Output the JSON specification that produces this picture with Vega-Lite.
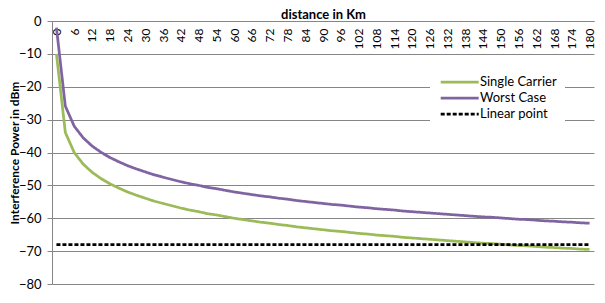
{
  "$schema": "https://vega.github.io/schema/vega-lite/v6.json",
  "width": 542,
  "height": 263,
  "autosize": {"type": "none"},
  "padding": {"left": 52, "top": 21, "right": 11, "bottom": 19},
  "background": "white",
  "config": {"view": {"stroke": null}, "font": "Lato"},
  "data": {"values": [
    {"km": 0, "Single Carrier": -10, "Worst Case": -2, "Linear point": -68},
    {"km": 3, "Single Carrier": -33.9, "Worst Case": -25.9, "Linear point": -68},
    {"km": 6, "Single Carrier": -40.0, "Worst Case": -32.0, "Linear point": -68},
    {"km": 9, "Single Carrier": -43.5, "Worst Case": -35.5, "Linear point": -68},
    {"km": 12, "Single Carrier": -46.0, "Worst Case": -38.0, "Linear point": -68},
    {"km": 15, "Single Carrier": -47.9, "Worst Case": -39.9, "Linear point": -68},
    {"km": 18, "Single Carrier": -49.5, "Worst Case": -41.5, "Linear point": -68},
    {"km": 21, "Single Carrier": -50.8, "Worst Case": -42.8, "Linear point": -68},
    {"km": 24, "Single Carrier": -52.0, "Worst Case": -44.0, "Linear point": -68},
    {"km": 27, "Single Carrier": -53.0, "Worst Case": -45.0, "Linear point": -68},
    {"km": 30, "Single Carrier": -53.9, "Worst Case": -45.9, "Linear point": -68},
    {"km": 33, "Single Carrier": -54.8, "Worst Case": -46.8, "Linear point": -68},
    {"km": 36, "Single Carrier": -55.5, "Worst Case": -47.5, "Linear point": -68},
    {"km": 39, "Single Carrier": -56.2, "Worst Case": -48.2, "Linear point": -68},
    {"km": 42, "Single Carrier": -56.9, "Worst Case": -48.9, "Linear point": -68},
    {"km": 45, "Single Carrier": -57.5, "Worst Case": -49.5, "Linear point": -68},
    {"km": 48, "Single Carrier": -58.0, "Worst Case": -50.0, "Linear point": -68},
    {"km": 51, "Single Carrier": -58.6, "Worst Case": -50.6, "Linear point": -68},
    {"km": 54, "Single Carrier": -59.0, "Worst Case": -51.0, "Linear point": -68},
    {"km": 57, "Single Carrier": -59.5, "Worst Case": -51.5, "Linear point": -68},
    {"km": 60, "Single Carrier": -60.0, "Worst Case": -52.0, "Linear point": -68},
    {"km": 63, "Single Carrier": -60.4, "Worst Case": -52.4, "Linear point": -68},
    {"km": 66, "Single Carrier": -60.8, "Worst Case": -52.8, "Linear point": -68},
    {"km": 69, "Single Carrier": -61.2, "Worst Case": -53.2, "Linear point": -68},
    {"km": 72, "Single Carrier": -61.5, "Worst Case": -53.5, "Linear point": -68},
    {"km": 75, "Single Carrier": -61.9, "Worst Case": -53.9, "Linear point": -68},
    {"km": 78, "Single Carrier": -62.2, "Worst Case": -54.2, "Linear point": -68},
    {"km": 81, "Single Carrier": -62.6, "Worst Case": -54.6, "Linear point": -68},
    {"km": 84, "Single Carrier": -62.9, "Worst Case": -54.9, "Linear point": -68},
    {"km": 87, "Single Carrier": -63.2, "Worst Case": -55.2, "Linear point": -68},
    {"km": 90, "Single Carrier": -63.5, "Worst Case": -55.5, "Linear point": -68},
    {"km": 93, "Single Carrier": -63.8, "Worst Case": -55.8, "Linear point": -68},
    {"km": 96, "Single Carrier": -64.0, "Worst Case": -56.0, "Linear point": -68},
    {"km": 99, "Single Carrier": -64.3, "Worst Case": -56.3, "Linear point": -68},
    {"km": 102, "Single Carrier": -64.6, "Worst Case": -56.6, "Linear point": -68},
    {"km": 105, "Single Carrier": -64.8, "Worst Case": -56.8, "Linear point": -68},
    {"km": 108, "Single Carrier": -65.1, "Worst Case": -57.1, "Linear point": -68},
    {"km": 111, "Single Carrier": -65.3, "Worst Case": -57.3, "Linear point": -68},
    {"km": 114, "Single Carrier": -65.5, "Worst Case": -57.5, "Linear point": -68},
    {"km": 117, "Single Carrier": -65.8, "Worst Case": -57.8, "Linear point": -68},
    {"km": 120, "Single Carrier": -66.0, "Worst Case": -58.0, "Linear point": -68},
    {"km": 123, "Single Carrier": -66.2, "Worst Case": -58.2, "Linear point": -68},
    {"km": 126, "Single Carrier": -66.4, "Worst Case": -58.4, "Linear point": -68},
    {"km": 129, "Single Carrier": -66.6, "Worst Case": -58.6, "Linear point": -68},
    {"km": 132, "Single Carrier": -66.8, "Worst Case": -58.8, "Linear point": -68},
    {"km": 135, "Single Carrier": -67.0, "Worst Case": -59.0, "Linear point": -68},
    {"km": 138, "Single Carrier": -67.2, "Worst Case": -59.2, "Linear point": -68},
    {"km": 141, "Single Carrier": -67.4, "Worst Case": -59.4, "Linear point": -68},
    {"km": 144, "Single Carrier": -67.6, "Worst Case": -59.6, "Linear point": -68},
    {"km": 147, "Single Carrier": -67.7, "Worst Case": -59.7, "Linear point": -68},
    {"km": 150, "Single Carrier": -67.9, "Worst Case": -59.9, "Linear point": -68},
    {"km": 153, "Single Carrier": -68.1, "Worst Case": -60.1, "Linear point": -68},
    {"km": 156, "Single Carrier": -68.3, "Worst Case": -60.3, "Linear point": -68},
    {"km": 159, "Single Carrier": -68.4, "Worst Case": -60.4, "Linear point": -68},
    {"km": 162, "Single Carrier": -68.6, "Worst Case": -60.6, "Linear point": -68},
    {"km": 165, "Single Carrier": -68.8, "Worst Case": -60.8, "Linear point": -68},
    {"km": 168, "Single Carrier": -68.9, "Worst Case": -60.9, "Linear point": -68},
    {"km": 171, "Single Carrier": -69.1, "Worst Case": -61.1, "Linear point": -68},
    {"km": 174, "Single Carrier": -69.2, "Worst Case": -61.2, "Linear point": -68},
    {"km": 177, "Single Carrier": -69.4, "Worst Case": -61.4, "Linear point": -68},
    {"km": 180, "Single Carrier": -69.5, "Worst Case": -61.5, "Linear point": -68}
  ]},
  "transform": [{"fold": ["Single Carrier", "Worst Case", "Linear point"], "as": ["series", "value"]}],
  "mark": {"type": "line", "interpolate": "linear"},
  "encoding": {
    "x": {
      "field": "km", "type": "quantitative",
      "scale": {"domain": [-1.5, 181.5], "nice": false, "zero": false},
      "axis": {
        "orient": "bottom", "offset": -263,
        "values": [0,6,12,18,24,30,36,42,48,54,60,66,72,78,84,90,96,102,108,114,120,126,132,138,144,150,156,162,168,174,180],
        "labelAngle": -90, "labelFontSize": 12, "labelColor": "#000", "labelPadding": 7,
        "labelFlush": false, "labelOverlap": false,
        "ticks": false, "grid": false, "domainColor": "#868686",
        "title": "distance in Km", "titleFontSize": 13, "titleFontWeight": "bold", "titleColor": "#000",
        "titleX": 271, "titleY": -3, "titleBaseline": "alphabetic", "titleAlign": "center"
      }
    },
    "y": {
      "field": "value", "type": "quantitative",
      "scale": {"domain": [-80, 0], "nice": false},
      "axis": {
        "values": [-80,-70,-60,-50,-40,-30,-20,-10,0],
        "grid": true, "gridColor": "#868686", "domainColor": "#868686", "tickColor": "#868686",
        "tickSize": 5, "labelPadding": 6, "labelFontSize": 13, "labelColor": "#000",
        "title": "Interference Power in dBm", "titleFontSize": 12, "titleFontWeight": "bold", "titleColor": "#000",
        "titleX": -34, "titleY": 131.5, "titleAngle": -90, "titleBaseline": "alphabetic", "titleAlign": "center"
      }
    },
    "color": {
      "field": "series", "type": "nominal",
      "scale": {"domain": ["Single Carrier", "Worst Case", "Linear point"], "range": ["#9BBB59", "#8064A2", "#000000"]},
      "legend": {
        "orient": "none", "legendX": 378, "legendY": 46.5, "title": null,
        "symbolType": "M-1,0H9", "symbolSize": 57.76, "symbolStrokeWidth": 3,
        "labelFontSize": 13, "labelColor": "#000", "labelOffset": 29, "rowPadding": 2,
        "padding": 8, "fillColor": "white"
      }
    },
    "strokeDash": {
      "field": "series", "type": "nominal",
      "scale": {"domain": ["Single Carrier", "Worst Case", "Linear point"], "range": [[1, 0], [1, 0], [4, 2]]},
      "legend": {
        "orient": "none", "legendX": 378, "legendY": 46.5, "title": null,
        "symbolType": "M-1,0H9", "symbolSize": 57.76, "symbolStrokeWidth": 3,
        "labelFontSize": 13, "labelColor": "#000", "labelOffset": 29, "rowPadding": 2,
        "padding": 8, "fillColor": "white"
      }
    },
    "strokeWidth": {
      "field": "series", "type": "nominal",
      "scale": {"domain": ["Single Carrier", "Worst Case", "Linear point"], "range": [2.75, 2.75, 2]},
      "legend": null
    }
  }
}
